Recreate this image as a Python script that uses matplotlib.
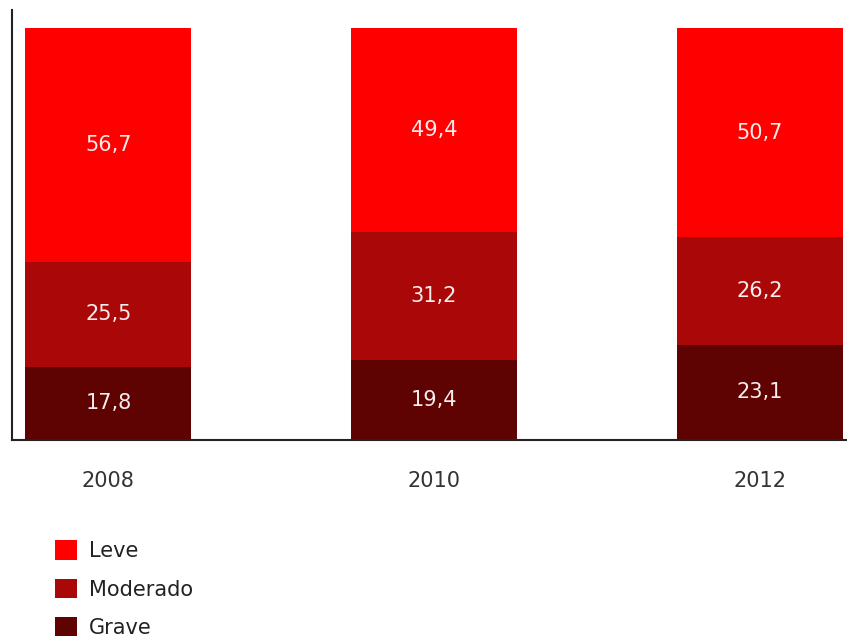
import numpy as np
import matplotlib
matplotlib.use('Agg')
import matplotlib.pyplot as plt

years = ['2008', '2010', '2012']
leve = [56.7, 49.4, 50.7]
moderado = [25.5, 31.2, 26.2]
grave = [17.8, 19.4, 23.1]

c_leve = '#fe0000'
c_mod = '#aa0808'
c_grave = '#5e0202'

fig = plt.figure(figsize=(8.47, 6.36), dpi=100)
ax = fig.add_axes([12 / 847, 196 / 636, 835 / 847, 430 / 636])

x = np.arange(len(years))
w = 0.51
b1 = ax.bar(x, grave, w, color=c_grave, label='Grave')
b2 = ax.bar(x, moderado, w, bottom=grave, color=c_mod, label='Moderado')
bot3 = np.array(grave) + np.array(moderado)
b3 = ax.bar(x, leve, w, bottom=bot3, color=c_leve, label='Leve')

# value labels in the middle of each segment
for bars, vals in [(b1, grave), (b2, moderado), (b3, leve)]:
    for rect, v in zip(bars, vals):
        ax.text(rect.get_x() + rect.get_width() / 2,
                rect.get_y() + rect.get_height() / 2,
                ('%.1f' % v).replace('.', ','),
                ha='center', va='center', color='#f8ecec', fontsize=15)

ax.set_xlim(-0.296, 2.268)
ax.set_ylim(0, 104.4)
ax.set_xticks(x)
ax.set_xticklabels(years, fontsize=15, color='#333333')
ax.tick_params(axis='x', length=0, pad=22)
ax.set_yticks([])
ax.spines['top'].set_visible(False)
ax.spines['right'].set_visible(False)
ax.spines['left'].set_color('#222222')
ax.spines['bottom'].set_color('#222222')
ax.spines['left'].set_linewidth(1.5)
ax.spines['bottom'].set_linewidth(1.5)

fig.legend(handles=[b3, b2, b1], labels=['Leve', 'Moderado', 'Grave'],
           loc='upper left', bbox_to_anchor=(45 / 847, 1 - 530 / 636),
           frameon=False, fontsize=15, handlelength=1.05, handleheight=1.05,
           handletextpad=0.55, labelspacing=0.85, borderpad=0, labelcolor='#222222')

fig.savefig('out.png', dpi=100)
